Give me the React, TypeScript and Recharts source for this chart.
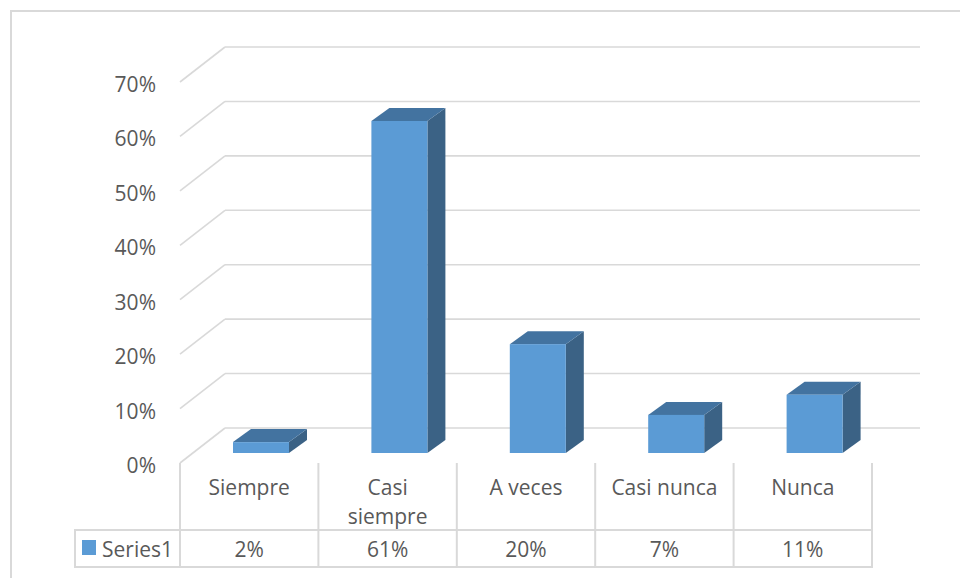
import { BarChart, Bar, XAxis, YAxis, CartesianGrid } from "recharts";

const categories = ["Siempre", "Casi siempre", "A veces", "Casi nunca", "Nunca"];
const tickLines = [["Siempre"], ["Casi", "siempre"], ["A veces"], ["Casi nunca"], ["Nunca"]];
const values = [0.02, 0.61, 0.2, 0.07, 0.107];
const valueLabels = ["2%", "61%", "20%", "7%", "11%"];
const yTicks = [0, 0.1, 0.2, 0.3, 0.4, 0.5, 0.6, 0.7];
const seriesName = "Series1";

const data = categories.map((name, i) => ({ name, value: values[i] }));

const TEXT = "#595959";
const LINE = "#d9d9d9";
const FONT = "'Open Sans', sans-serif";
const SIZE = 21;
const HALF = 69.2; // half of a category cell
const DEPTH_X = 45;
const DEPTH_Y = 35;

function GridLine(props: any) {
  const { x1, x2, y1, key } = props;
  return (
    <g key={key}>
      <line x1={x1} y1={y1} x2={x1 + DEPTH_X} y2={y1 - DEPTH_Y} stroke={LINE} strokeWidth={1.6} />
      <line x1={x1 + DEPTH_X} y1={y1 - DEPTH_Y} x2={x2 + 48} y2={y1 - DEPTH_Y} stroke={LINE} strokeWidth={1.6} />
    </g>
  );
}

function Box(props: any) {
  const { x, y, width, height } = props;
  const bx = x + 12;
  const by = y - 10;
  const dx = 18;
  const dy = 13;
  return (
    <g>
      <polygon
        points={`${bx + width},${by} ${bx + width + dx},${by - dy} ${bx + width + dx},${by + height - dy} ${bx + width},${by + height}`}
        fill="#3b6285"
      />
      <polygon
        points={`${bx},${by} ${bx + dx},${by - dy} ${bx + width + dx},${by - dy} ${bx + width},${by}`}
        fill="#4373a0"
      />
      <rect x={bx} y={by} width={width} height={height} fill="#5b9bd5" />
    </g>
  );
}

function YTick(props: any) {
  const { x, y, payload } = props;
  return (
    <text x={x} y={y + 2} textAnchor="end" dominantBaseline="central" fill={TEXT} fontFamily={FONT} fontSize={SIZE}>
      {Math.round(payload.value * 100)}%
    </text>
  );
}

function TableTick(props: any) {
  const { x, y, payload } = props;
  const i = categories.indexOf(payload.value);
  const lines = tickLines[i];
  const left = x - HALF;
  const right = x + HALF;
  return (
    <g fontFamily={FONT} fontSize={SIZE} fill={TEXT}>
      {i === 0 && (
        <g>
          <line x1={75} y1={y + 67} x2={left} y2={y + 67} stroke={LINE} strokeWidth={2} />
          <line x1={75} y1={y + 104} x2={left} y2={y + 104} stroke={LINE} strokeWidth={2} />
          <line x1={75} y1={y + 66} x2={75} y2={y + 105} stroke={LINE} strokeWidth={2} />
          <line x1={left} y1={y} x2={left} y2={y + 105} stroke={LINE} strokeWidth={2} />
          <rect x={82} y={y + 77} width={14} height={15} fill="#5b9bd5" />
          <text x={102} y={y + 86} dominantBaseline="central">{seriesName}</text>
        </g>
      )}
      <line x1={left} y1={y + 67} x2={right} y2={y + 67} stroke={LINE} strokeWidth={2} />
      <line x1={left} y1={y + 104} x2={right} y2={y + 104} stroke={LINE} strokeWidth={2} />
      <line x1={right} y1={y} x2={right} y2={y + 105} stroke={LINE} strokeWidth={2} />
      {lines.map((t, k) => (
        <text key={k} x={x} y={y + 24 + k * 29} textAnchor="middle" dominantBaseline="central">
          {t}
        </text>
      ))}
      <text x={x} y={y + 86} textAnchor="middle" dominantBaseline="central">
        {valueLabels[i]}
      </text>
    </g>
  );
}

export default function App() {
  return (
    <div style={{ position: "fixed", left: 0, top: 0, width: 960, height: 578, overflow: "hidden", background: "#fff" }}>
      <div
        style={{
          position: "absolute",
          left: 10,
          top: 10,
          width: 1000,
          height: 1000,
          borderTop: `2px solid ${LINE}`,
          borderLeft: `2px solid ${LINE}`,
        }}
      />
      <div style={{ position: "absolute", left: 0, top: 0 }}>
        <BarChart width={960} height={578} data={data} margin={{ top: 82, right: 88, bottom: 11, left: 100 }}>
          <CartesianGrid vertical={false} horizontal={GridLine} />
          <XAxis
            dataKey="name"
            height={104}
            interval={0}
            axisLine={false}
            tickLine={false}
            tickSize={0}
            tickMargin={0}
            tick={TableTick}
          />
          <YAxis
            width={80}
            domain={[0, 0.7]}
            ticks={yTicks}
            axisLine={false}
            tickLine={false}
            tickSize={0}
            tickMargin={24}
            tick={YTick}
          />
          <Bar dataKey="value" barSize={56} shape={Box} isAnimationActive={false} />
        </BarChart>
      </div>
    </div>
  );
}
